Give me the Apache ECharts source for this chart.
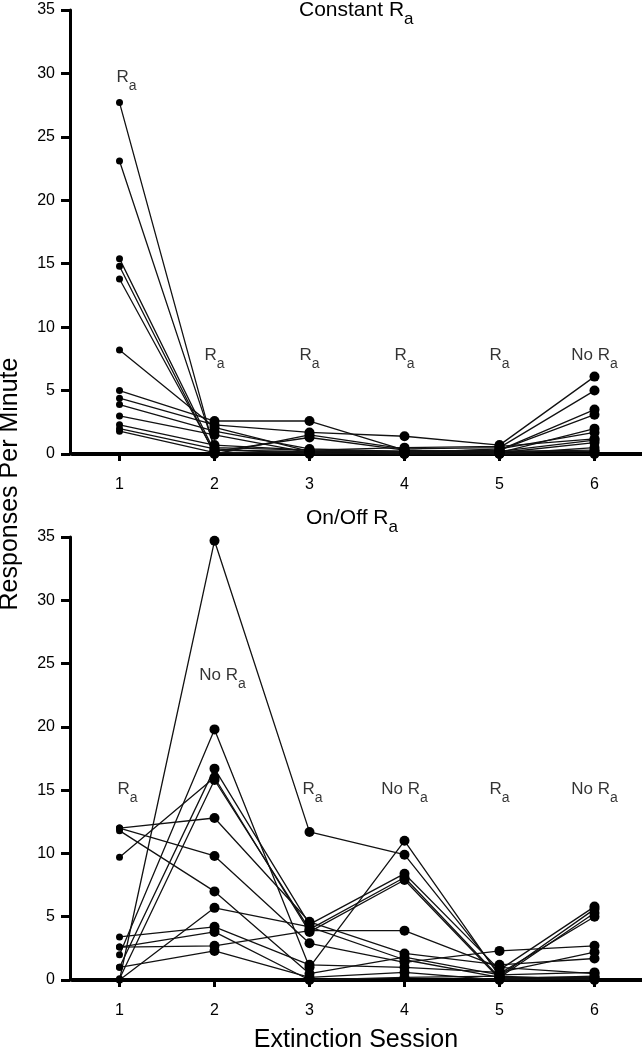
<!DOCTYPE html>
<html>
<head>
<meta charset="utf-8">
<script src="https://cdn.jsdelivr.net/npm/echarts@6/dist/echarts.min.js"></script>
<style>
  html, body { margin: 0; padding: 0; background: #fff; }
  #chart { width: 642px; height: 1050px; }
</style>
</head>
<body>
<div id="chart"></div>
<script>
// sessions on the x axis
const sessions = ['1', '2', '3', '4', '5', '6'];

// responses per minute, one row per subject, sessions 1..6
const constantRa = [
  [27.7, 0.3, 0.2, 0.1, 0.2, 1.1],
  [23.1, 0.5, 0.3, 0.2, 0.3, 3.5],
  [15.4, 0.2, 1.3, 0.3, 0.1, 0.9],
  [14.8, 0.0, 1.5, 0.4, 0.5, 5.0],
  [13.8, 0.1, 0.1, 0.0, 0.2, 0.2],
  [8.2, 2.1, 0.2, 0.1, 0.4, 1.7],
  [5.0, 2.6, 2.6, 0.3, 0.1, 2.0],
  [4.4, 2.3, 1.7, 1.4, 0.7, 6.1],
  [3.9, 1.8, 0.4, 0.2, 0.3, 3.1],
  [3.0, 1.5, 0.1, 0.0, 0.0, 0.0],
  [2.3, 0.7, 0.3, 0.5, 0.6, 1.2],
  [2.0, 0.4, 0.0, 0.1, 0.2, 0.3],
  [1.8, 0.1, 0.2, 0.2, 0.0, 0.5]
];

const onOffRa = [
  [0.0, 34.7, 11.7, 9.9, 0.5, 5.0],
  [2.0, 19.8, 1.0, 11.0, 0.3, 5.6],
  [1.0, 16.7, 4.4, 8.4, 0.8, 5.8],
  [0.1, 15.8, 4.0, 8.1, 0.2, 5.3],
  [9.7, 16.0, 3.8, 7.9, 0.1, 0.3],
  [12.0, 12.8, 4.6, 2.1, 1.2, 1.7],
  [11.8, 7.0, 0.5, 1.8, 0.4, 0.6],
  [12.0, 9.8, 2.9, 1.4, 2.3, 2.7],
  [3.4, 4.2, 1.2, 1.0, 0.6, 2.2],
  [2.6, 2.7, 3.9, 3.9, 1.0, 0.5],
  [1.0, 2.3, 0.2, 0.6, 0.0, 0.1],
  [2.6, 3.8, 0.0, 0.2, 0.3, 0.0],
  [0.0, 5.7, 4.2, 1.6, 0.2, 0.2]
];

// condition notes above each session
const constantNotes = ['Ra', 'Ra', 'Ra', 'Ra', 'Ra', 'No Ra'];
const onOffNotes = ['Ra', 'No Ra', 'Ra', 'No Ra', 'Ra', 'No Ra'];

// where the notes sit (value units) and small sideways nudges (px)
const constantNoteAt = [29.4, 7.5, 7.5, 7.5, 7.5, 7.5];
const constantNoteDx = [7, 0, 0, 0, 0, 0];
const onOffNoteAt = [14.8, 23.8, 14.8, 14.8, 14.8, 14.8];
const onOffNoteDx = [8, 8, 3, 0, 0, 0];

const FONT = 'Liberation Sans, Arial, Helvetica, sans-serif';

function noteText(s) {
  // "No Ra" -> rich text with subscript a
  return '{r|' + s.slice(0, -1) + '}{s|' + s.slice(-1) + '}';
}

const noteRich = {
  r: { fontSize: 17, fontFamily: FONT, color: '#000', verticalAlign: 'top' },
  s: { fontSize: 14, fontFamily: FONT, color: '#000', verticalAlign: 'top', padding: [10, 0, 0, 0] }
};

const titleRich = {
  r: { fontSize: 21, fontFamily: FONT, fontWeight: 'normal', color: '#000', verticalAlign: 'top' },
  s: { fontSize: 17, fontFamily: FONT, fontWeight: 'normal', color: '#000', verticalAlign: 'top', padding: [11, 0, 0, 0] }
};

function makeAxes(i) {
  return {
    x: {
      gridIndex: i,
      type: 'category',
      data: sessions,
      boundaryGap: true,
      offset: 12,
      axisLine: { show: true, lineStyle: { color: '#000', width: 4 } },
      axisTick: { show: true, alignWithLabel: true, length: 7, lineStyle: { color: '#000', width: 3 } },
      axisLabel: { fontSize: 16, color: '#000', fontFamily: FONT, margin: 11 },
      splitLine: { show: false }
    },
    y: {
      gridIndex: i,
      type: 'value',
      min: 0,
      max: 35,
      interval: 5,
      offset: 2,
      axisLine: { show: true, lineStyle: { color: '#000', width: 3 } },
      axisTick: { show: true, length: 9, lineStyle: { color: '#000', width: 3 } },
      axisLabel: { fontSize: 16, color: '#000', fontFamily: FONT, margin: 15 },
      splitLine: { show: false }
    }
  };
}

function subjectSeries(rows, i) {
  return rows.map(row => ({
    type: 'line',
    xAxisIndex: i,
    yAxisIndex: i,
    data: row,
    symbol: 'circle',
    symbolSize: (v, p) => p.dataIndex === 0 ? 7 : 10,
    showSymbol: true,
    lineStyle: { color: '#111', width: 1.3 },
    itemStyle: { color: '#000' },
    silent: true,
    z: 3
  }));
}

function noteSeries(notes, at, dx, i) {
  return {
    type: 'scatter',
    xAxisIndex: i,
    yAxisIndex: i,
    symbolSize: 0,
    silent: true,
    data: notes.map((n, k) => ({
      value: [k, at[k]],
      label: {
        show: true,
        position: 'inside',
        offset: [dx[k], 0],
        formatter: noteText(n),
        rich: noteRich
      }
    })),
    z: 5
  };
}

const upperAxes = makeAxes(0);
const lowerAxes = makeAxes(1);

const chart = echarts.init(document.getElementById('chart'));
chart.setOption({
  animation: false,
  backgroundColor: '#fff',
  title: [
    {
      text: '{r|Constant R}{s|a}',
      left: 299,
      top: 0,
      padding: 0,
      textStyle: { fontWeight: 'normal', rich: titleRich }
    },
    {
      text: '{r|On/Off R}{s|a}',
      left: 306,
      top: 508,
      padding: 0,
      textStyle: { fontWeight: 'normal', rich: titleRich }
    }
  ],
  grid: [
    { left: 72, right: 0, top: 10, height: 444 },
    { left: 72, right: 0, top: 537, height: 443 }
  ],
  xAxis: [upperAxes.x, lowerAxes.x],
  yAxis: [upperAxes.y, lowerAxes.y],
  graphic: [
    {
      type: 'text',
      x: 10,
      y: 484,
      rotation: Math.PI / 2,
      style: {
        text: 'Responses Per Minute',
        font: '25px ' + FONT,
        fill: '#000',
        align: 'center',
        verticalAlign: 'middle'
      }
    },
    {
      type: 'text',
      x: 356,
      y: 1040,
      style: {
        text: 'Extinction Session',
        font: '25px ' + FONT,
        fill: '#000',
        align: 'center',
        verticalAlign: 'middle'
      }
    }
  ],
  series: [
    ...subjectSeries(constantRa, 0),
    ...subjectSeries(onOffRa, 1),
    noteSeries(constantNotes, constantNoteAt, constantNoteDx, 0),
    noteSeries(onOffNotes, onOffNoteAt, onOffNoteDx, 1)
  ]
});
</script>
</body>
</html>
